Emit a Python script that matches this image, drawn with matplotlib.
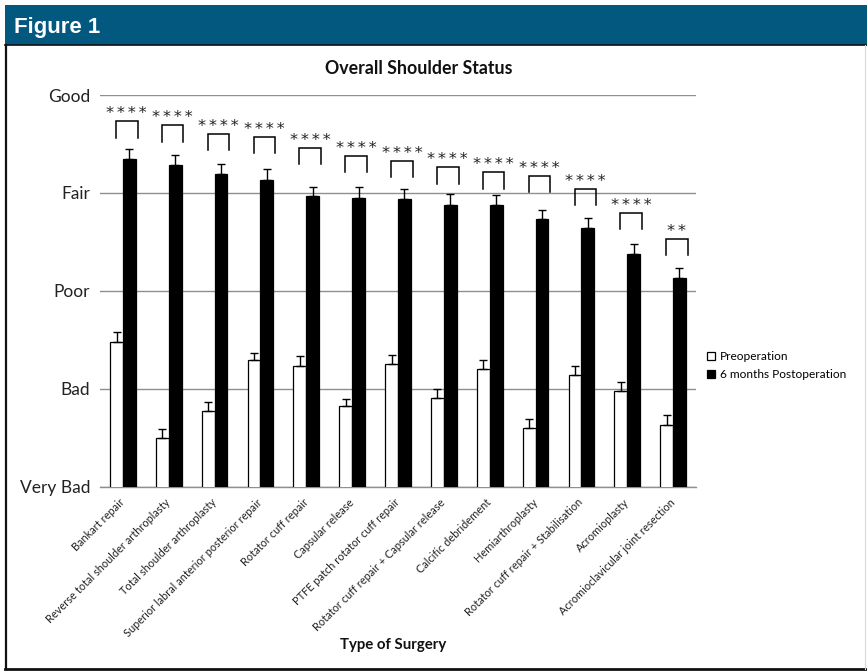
import matplotlib
matplotlib.use("Agg")
import matplotlib.pyplot as plt
from matplotlib.patches import Rectangle
from matplotlib.lines import Line2D
import numpy as np

# ---- data -------------------------------------------------------------
surgeries = [
    "Bankart repair",
    "Reverse total shoulder arthroplasty",
    "Total shoulder arthroplasty",
    "Superior labral anterior posterior repair",
    "Rotator cuff repair",
    "Capsular release",
    "PTFE patch rotator cuff repair",
    "Rotator cuff repair + Capsular release",
    "Calcific debridement",
    "Hemiarthroplasty",
    "Rotator cuff repair + Stabilisation",
    "Acromioplasty",
    "Acromioclavicular joint resection",
]
status_levels = ["Very Bad", "Bad", "Poor", "Fair", "Good"]   # scored 1..5

pre_mean = [2.48, 1.50, 1.77, 2.29, 2.23, 1.82, 2.25, 1.91, 2.20, 1.60, 2.14, 1.98, 1.63]
pre_err = [0.10, 0.09, 0.09, 0.08, 0.10, 0.08, 0.10, 0.09, 0.09, 0.09, 0.09, 0.09, 0.10]
post_mean = [4.35, 4.29, 4.19, 4.13, 3.97, 3.95, 3.94, 3.88, 3.88, 3.73, 3.64, 3.38, 3.13]
post_err = [0.10, 0.10, 0.11, 0.11, 0.09, 0.11, 0.10, 0.11, 0.10, 0.10, 0.10, 0.10, 0.10]
significance = ["****"] * 12 + ["**"]
bracket_level = [4.73, 4.69, 4.60, 4.57, 4.46, 4.38, 4.33, 4.26, 4.21, 4.17, 4.04, 3.80, 3.53]

series_names = ["Preoperation", "6 months Postoperation"]

# ---- figure -----------------------------------------------------------
W, H = 867, 671
DPI = 100
plt.rcParams["font.family"] = ["Lato", "DejaVu Sans"]
fig = plt.figure(figsize=(W / DPI, H / DPI), dpi=DPI)


def fx(px):
    return px / W


def fy(py):
    return 1 - py / H


# header band and frame
fig.add_artist(Rectangle((fx(5), fy(44.5)), fx(862), 39.5 / H,
                         transform=fig.transFigure, facecolor="#02587f",
                         edgecolor="none", zorder=0))
fig.add_artist(Line2D([fx(5), 1], [fy(45), fy(45)], transform=fig.transFigure,
                      color="#111111", lw=1.2))
fig.add_artist(Line2D([fx(6), fx(6)], [fy(45), fy(669)], transform=fig.transFigure,
                      color="#111111", lw=1.6))
fig.add_artist(Line2D([fx(5), 1], [fy(669), fy(669)], transform=fig.transFigure,
                      color="#111111", lw=2.0))
fig.add_artist(Line2D([fx(865), fx(865)], [fy(45), fy(669)], transform=fig.transFigure,
                      color="#d8d8d8", lw=0.8))
fig.text(fx(14), fy(33.5), "Figure 1", family="Liberation Sans", weight="bold",
         fontsize=16, color="white", ha="left", va="baseline")

# chart title and axis title
fig.text(fx(419), fy(68), "Overall Shoulder Status", weight="bold",
         fontsize=12.8, ha="center", va="center", color="#111111")
fig.text(fx(393), fy(645.5), "Type of Surgery", weight="bold",
         fontsize=10.8, ha="center", va="center", color="#111111")

# ---- axes -------------------------------------------------------------
ax_left, ax_right, ax_top, ax_bottom = 100, 696, 95, 486.7
ax = fig.add_axes([fx(ax_left), fy(ax_bottom), fx(ax_right - ax_left),
                   (ax_bottom - ax_top) / H])

n = len(surgeries)
x = np.arange(n)
bw = 0.28
off = 0.14

ax.bar(x - off, pre_mean, bw, bottom=0, color="white", edgecolor="black",
       linewidth=0.9, label=series_names[0], zorder=3)
ax.bar(x + off, post_mean, bw, bottom=0, color="black", edgecolor="black",
       linewidth=0.9, label=series_names[1], zorder=3)
ax.errorbar(x - off, pre_mean, yerr=[np.zeros(n), pre_err], fmt="none",
            ecolor="black", elinewidth=1.0, capsize=3, capthick=1.0, zorder=4)
ax.errorbar(x + off, post_mean, yerr=[np.zeros(n), post_err], fmt="none",
            ecolor="black", elinewidth=1.0, capsize=3, capthick=1.0, zorder=4)

# significance brackets
leg_len = 0.165
for xi, top, sig in zip(x, bracket_level, significance):
    xl, xr = xi - 0.15, xi + 0.32
    ax.plot([xl, xl, xr, xr], [top - leg_len, top, top, top - leg_len],
            color="black", lw=1.1, zorder=5, clip_on=False, solid_joinstyle="miter")
    ax.annotate("\u2006".join(sig), xy=((xl + xr) / 2, top + 0.13), xytext=(0, -7.0),
                textcoords="offset points", ha="center", va="baseline",
                family="DejaVu Sans", fontsize=11.7, color="#222222",
                annotation_clip=False)

ax.set_xlim(-0.5, n - 0.5)
ax.set_ylim(1, 5)
ax.set_yticks(np.arange(1, len(status_levels) + 1))
ax.set_yticklabels(status_levels, fontsize=12.5, color="#222222")
ax.grid(axis="y", color="#8f8f8f", lw=1.0, zorder=0)
ax.set_axisbelow(True)
for side in ["top", "right", "left"]:
    ax.spines[side].set_visible(False)
ax.spines["bottom"].set_color("#8f8f8f")
ax.spines["bottom"].set_linewidth(1.0)
ax.tick_params(axis="y", length=0, pad=7)
ax.tick_params(axis="x", length=0, pad=10)
ax.set_xticks(x)
ax.set_xticklabels(surgeries, rotation=45, ha="right", va="center",
                   rotation_mode="anchor", fontsize=7.9, color="#222222")

ax.legend(loc="upper left", bbox_to_anchor=(fx(707), fy(351)),
          bbox_transform=fig.transFigure, frameon=False, fontsize=8.6,
          handlelength=0.65, handleheight=0.65, handletextpad=0.4,
          labelspacing=0.6, borderpad=0, borderaxespad=0)

fig.savefig("out.png", dpi=DPI)
